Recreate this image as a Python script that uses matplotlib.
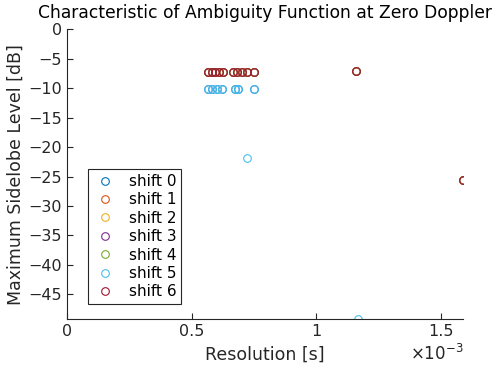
import numpy as np
import matplotlib
matplotlib.use('Agg')
import matplotlib.pyplot as plt
from matplotlib.ticker import FuncFormatter

plt.rcParams['font.family'] = ['DejaVu Sans']

# resolution [s] and max sidelobe level [dB] per shift
res_red = [0.566e-3, 0.581e-3, 0.596e-3, 0.611e-3, 0.625e-3, 0.668e-3, 0.681e-3,
           0.701e-3, 0.721e-3, 0.752e-3, 1.160e-3, 1.591e-3]
msl_red = [-7.2, -7.2, -7.2, -7.2, -7.2, -7.2, -7.2, -7.2, -7.2, -7.2, -7.1, -25.6]
res_blue = [0.565e-3, 0.581e-3, 0.601e-3, 0.621e-3, 0.675e-3, 0.685e-3, 0.752e-3]
msl_blue = [-10.1, -10.1, -10.1, -10.1, -10.1, -10.1, -10.1]
res_s5 = res_blue + [0.722e-3, 1.169e-3]
msl_s5 = msl_blue + [-21.8, -49.2]

shift_names = ['shift 0', 'shift 1', 'shift 2', 'shift 3', 'shift 4', 'shift 5', 'shift 6']
shift_x = [res_blue, res_red, res_red, res_red, res_red, res_s5, res_red]
shift_y = [msl_blue, msl_red, msl_red, msl_red, msl_red, msl_s5, msl_red]
colors = ['#0072BD', '#D95319', '#EDB120', '#7E2F8E', '#77AC30', '#4DBEEE', '#A2142F']

fig = plt.figure(figsize=(5.04, 3.72), dpi=100)
ax = fig.add_axes([0.133, 0.142, 0.786, 0.7795])

for name, xs, ys, c in zip(shift_names, shift_x, shift_y, colors):
    ax.plot(xs, ys, linestyle='none', marker='o', markersize=5.5, markerfacecolor='none',
            markeredgecolor=c, markeredgewidth=0.8, label=name)

ax.set_xlim(0, 1.591e-3)
ax.set_ylim(-49.2, 0)
ax.set_yticks(np.arange(0, -46, -5))
ax.set_xticks([0, 0.5e-3, 1e-3, 1.5e-3])
ax.xaxis.set_major_formatter(FuncFormatter(lambda v, p: '%g' % round(v * 1e3, 3)))
ax.yaxis.set_major_formatter(FuncFormatter(lambda v, p: '%g' % v if v == 0 else '\u2212%g' % abs(v)))
ax.text(1.0, -0.085, r'$\times10^{-3}$', transform=ax.transAxes, ha='right', va='top',
        fontsize=12, color='#262626')

for s in ['top', 'right']:
    ax.spines[s].set_visible(False)
for s in ['left', 'bottom']:
    ax.spines[s].set_color('#262626')
    ax.spines[s].set_linewidth(0.8)
ax.tick_params(direction='in', length=4, labelsize=11.5, colors='#262626', width=0.8)

ax.set_title('Characteristic of Ambiguity Function at Zero Doppler', fontsize=12.3, pad=8)
ax.set_xlabel('Resolution [s]', fontsize=12.5, color='#262626', labelpad=5)
ax.set_ylabel('Maximum Sidelobe Level [dB]', fontsize=12.5, color='#262626', labelpad=3)

leg = ax.legend(loc='lower left', bbox_to_anchor=(0.053, 0.053), borderaxespad=0,
                fontsize=11, frameon=True, fancybox=False, edgecolor='#262626',
                framealpha=1, handletextpad=0.8, labelspacing=0.22, borderpad=0.3,
                handlelength=1.6)
leg.get_frame().set_linewidth(0.8)

fig.savefig('out.png', dpi=100)
